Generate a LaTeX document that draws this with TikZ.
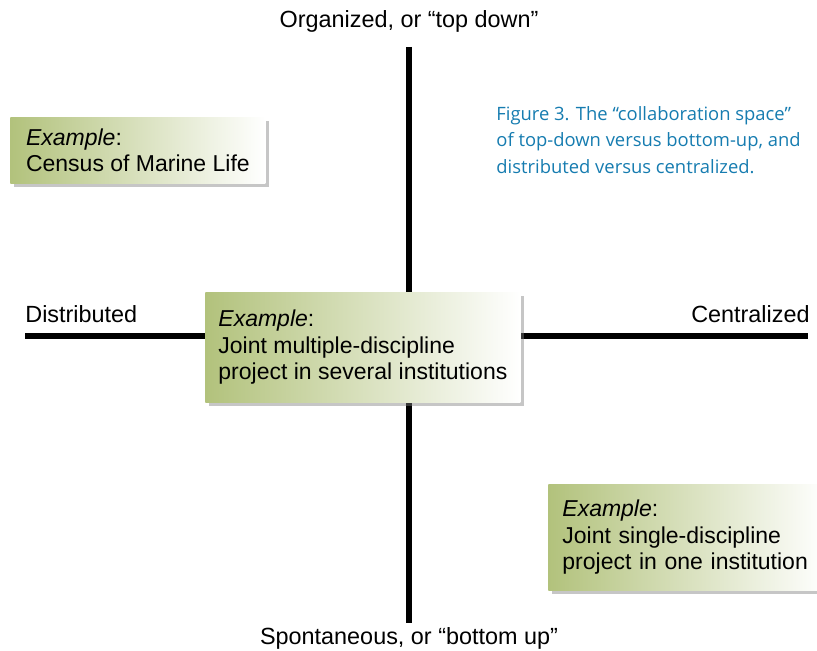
\documentclass[tikz,border=0pt]{standalone}
\usepackage{fontspec}
\setmainfont{Liberation Sans}
\newfontfamily\capfont{Open Sans}
\usepackage{xcolor}
\usepackage{tikz}
\usetikzlibrary{positioning,shadows}
\definecolor{boxgreen}{RGB}{178,194,124}
\definecolor{capblue}{RGB}{22,124,176}
\tikzset{
	axis/.style={line width=3pt,draw=black},
	axislabel/.style={inner sep=0pt,font=\fontsize{11.7}{13}\selectfont},
	example/.style={rectangle,anchor=north west,align=left,inner xsep=6.5pt,inner ysep=0pt,
		left color=boxgreen,right color=white,
		drop shadow={shadow xshift=2pt,shadow yshift=-2pt,opacity=0.45},
		font=\fontsize{11.5}{13.3}\selectfont}
}

\begin{document}
\begin{tikzpicture}[x=0.5pt,y=-0.5pt]
		\useasboundingbox (0,0) rectangle (817,651);
		\coordinate (top) at (409,47);
		\coordinate (bottom) at (409,623);
		\coordinate (left) at (25,336);
		\coordinate (right) at (808,336);
		
		\draw[axis] (top) -- (bottom);
		\draw[axis] (left) -- (right);
		
		\node[axislabel,anchor=base] (org) at (409,28) {Organized, or “top down”};
		\node[axislabel,anchor=base] (spon) at (409,644) {Spontaneous, or “bottom up”};
		\node[axislabel,anchor=base west] (dist) at (25,322) {Distributed};
		\node[axislabel,anchor=base east] (cent) at (810,322) {Centralized};
		
		\node[example,minimum width=127.5pt,minimum height=33pt] (census) at (10,117)
			{\textit{Example}:\\Census of Marine Life};
		\node[example,minimum width=157.5pt,minimum height=55pt] (joint) at (205,292)
			{\textit{Example}:\\Joint multiple-discipline\\project in several institutions};
		\node[example,text width=125pt,inner xsep=7pt,minimum height=53pt] (single) at (548,484)
			{\textit{Example}:\\Joint single-discipline\\project in one institution};
		
		\node[anchor=north west,align=left,inner sep=0pt,text=capblue,
			font=\capfont\fontsize{9.2}{13.2}\selectfont] (caption) at (496,106)
			{Figure 3. The “collaboration space”\\of top-down versus bottom-up, and\\distributed versus centralized.};
	\end{tikzpicture}
\end{document}
